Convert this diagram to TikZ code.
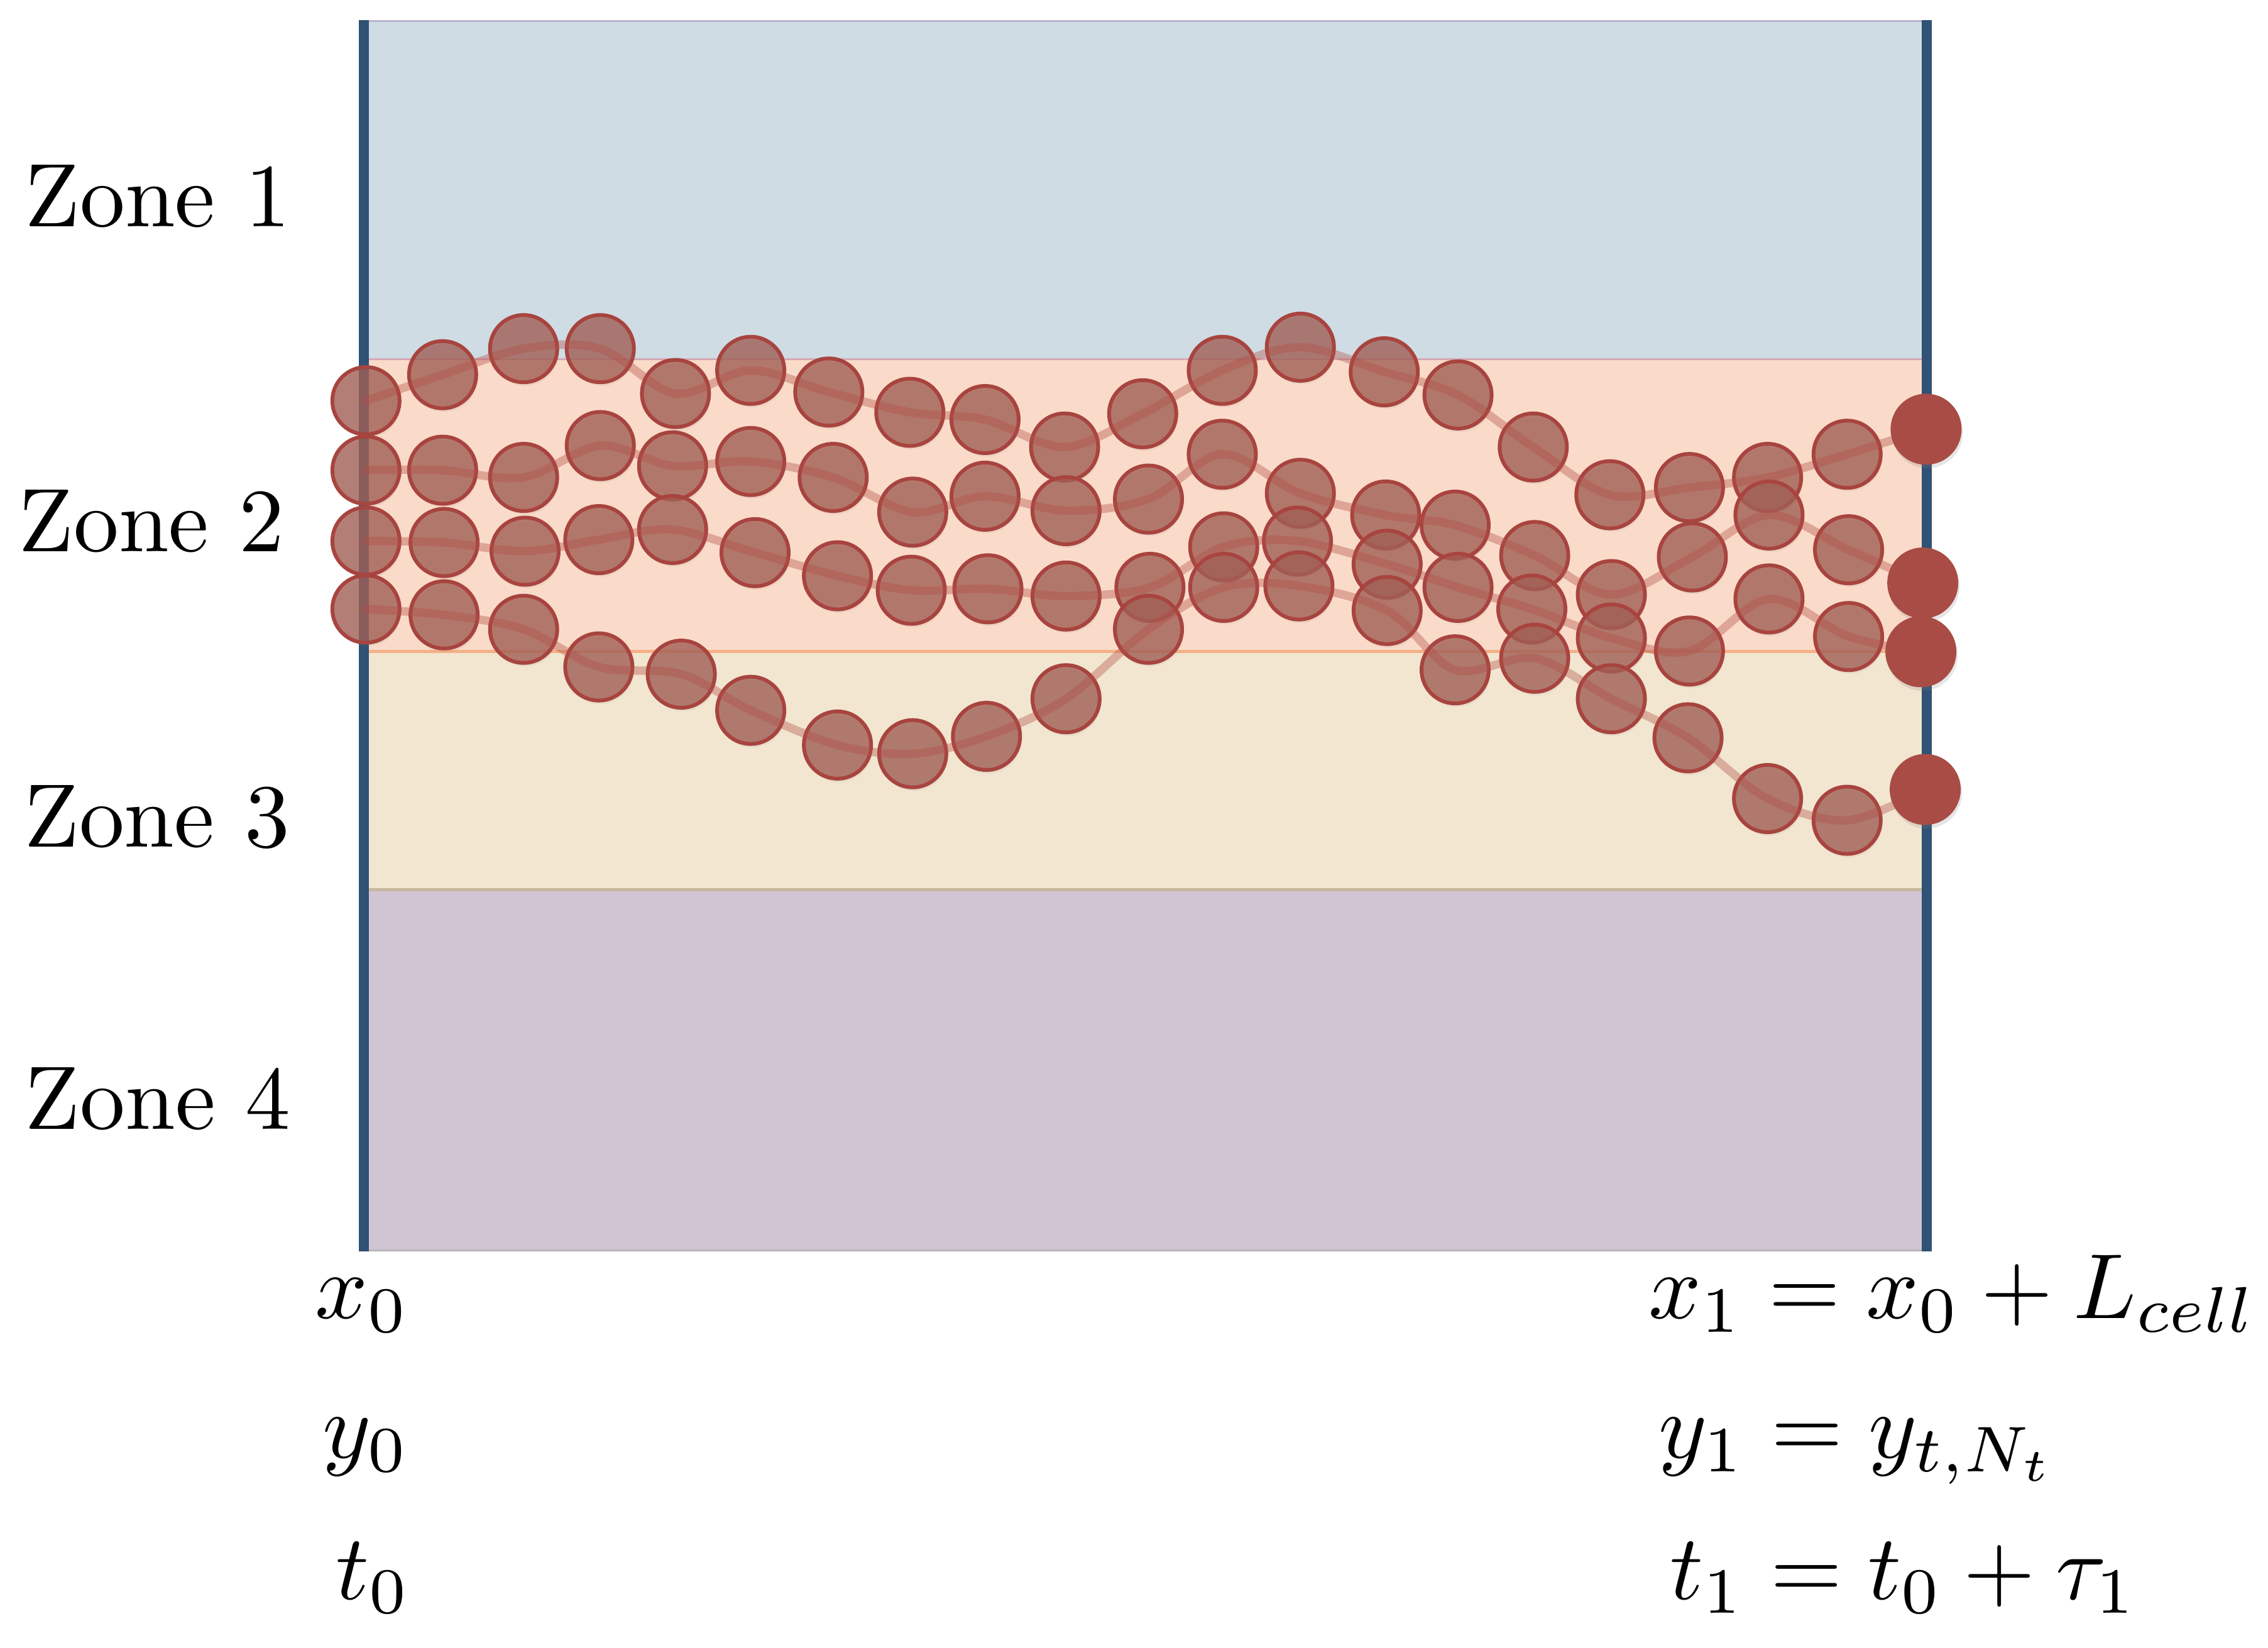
\documentclass[tikz,border=0pt]{standalone}
\usetikzlibrary{shadows}
\definecolor{zoneA}{HTML}{CFDCE4}
\definecolor{zoneB}{HTML}{FADBC9}
\definecolor{zoneC}{HTML}{F2E6D0}
\definecolor{zoneD}{HTML}{D1C5D4}
\definecolor{barblue}{HTML}{2F5275}
\definecolor{beadfill}{RGB}{162,94,84}
\definecolor{beadedge}{HTML}{A8443F}
\definecolor{beadsolid}{HTML}{A84C45}
\definecolor{trail}{RGB}{178,78,70}
\definecolor{lineA}{HTML}{B8B4CC}
\definecolor{lineB}{HTML}{D5A9B3}
\definecolor{lineC}{HTML}{F5B088}
\definecolor{lineD}{HTML}{C8B89C}
\definecolor{lineE}{HTML}{B9B6B9}
\pgfdeclarelayer{front}
\pgfsetlayers{main,front}
\begin{document}
\begin{tikzpicture}[x=0.0230166cm, y=-0.0230166cm,
  bead/.style={circle, inner sep=0pt, outer sep=0pt, minimum size=1.07cm,
    fill=beadfill, fill opacity=0.78, draw=beadedge, draw opacity=1, line width=1.7pt,
    drop shadow={shadow xshift=0.6pt, shadow yshift=-1.6pt, opacity=0.1}},
  endbead/.style={circle, inner sep=0pt, outer sep=0pt, minimum size=1.13cm,
    fill=beadsolid,
    drop shadow={shadow xshift=0.6pt, shadow yshift=-1.6pt, opacity=0.2}},
  trailline/.style={draw=trail, line width=3.8pt, opacity=0.38, line cap=round, line join=round},
  zonelabel/.style={anchor=base, inner sep=0pt, scale=4.08, transform shape},
  mathlabel/.style={anchor=base west, inner sep=0pt, scale=4.18, transform shape}]

\useasboundingbox (0,0) rectangle (1568,1139);

% zones
\fill[zoneA] (255,13.9) rectangle (1328.6,248.1);
\fill[zoneB] (255,248.1) rectangle (1328.6,450.5);
\fill[zoneC] (255,450.5) rectangle (1328.6,614.8);
\fill[zoneD] (255,614.8) rectangle (1328.6,863.7);
\draw[lineA, line width=0.85pt] (255,14.6) -- (1328.6,14.6);
\draw[lineB, line width=0.85pt] (255,248.4) -- (1328.6,248.4);
\draw[lineC, line width=1.4pt] (255,450.5) -- (1328.6,450.5);
\draw[lineD, line width=1.4pt] (255,614.8) -- (1328.6,614.8);
\draw[lineE, line width=0.85pt] (255,864.2) -- (1328.6,864.2);

% boundary bars
\fill[barblue] (248.1,13.9) rectangle (255,865);
\fill[barblue] (1328.6,13.9) rectangle (1335.5,865);

% zone labels
\node[zonelabel] (zone1) at (109,156.6) {Zone 1};
\node[zonelabel] (zone2) at (104.7,381.4) {Zone 2};
\node[zonelabel] (zone3) at (108.5,585.4) {Zone 3};
\node[zonelabel] (zone4) at (109.1,780.5) {Zone 4};

% beads
\foreach \x/\y [count=\i] in {253/277,306/259,362/241,415/241,467/272,519/256,573/271,629/285,681/290,736/309,790/286,845/256,899/240,957/257,1008/273,1060/309,1113/342,1168/337,1222/330,1277/314}
  \node[bead] (A\i) at (\x,\y) {};
\foreach \x/\y [count=\i] in {253/325,306/325,362/330,415/308,465/322,519/319,576/330,631/354,681/343,737/353,794/345,845/314,899/341,958/356,1006/363,1061/384,1114/411,1170/385,1223/356,1278/380}
  \node[bead] (B\i) at (\x,\y) {};
\foreach \x/\y [count=\i] in {253/374,307/375,363/381,414/373,465/366,522/382,579/398,630/408,683/407,737/412,795/406,846/378,897/374,959/390,1008/406,1059/421,1114/441,1168/450,1223/414,1278/440}
  \node[bead] (C\i) at (\x,\y) {};
\foreach \x/\y [count=\i] in {253/421,307/425,362/435,414/461,471/466,519/491,579/515,631/521,682/509,737/483,794/435,846/406,898/405,959/422,1006/463,1061/455,1114/483,1167/510,1222/552,1277/567}
  \node[bead] (D\i) at (\x,\y) {};

\begin{pgfonlayer}{front}
  \node[endbead] (AE) at (1331.6,296.7) {};
  \node[endbead] (BE) at (1329.3,403) {};
  \node[endbead] (CE) at (1328,450.5) {};
  \node[endbead] (DE) at (1331,545.7) {};
\end{pgfonlayer}

% trails
\draw[trailline] plot[smooth, tension=0.55] coordinates {(A1.center) (A2.center) (A3.center) (A4.center) (A5.center) (A6.center) (A7.center) (A8.center) (A9.center) (A10.center) (A11.center) (A12.center) (A13.center) (A14.center) (A15.center) (A16.center) (A17.center) (A18.center) (A19.center) (A20.center) (AE.center)};
\draw[trailline] plot[smooth, tension=0.55] coordinates {(B1.center) (B2.center) (B3.center) (B4.center) (B5.center) (B6.center) (B7.center) (B8.center) (B9.center) (B10.center) (B11.center) (B12.center) (B13.center) (B14.center) (B15.center) (B16.center) (B17.center) (B18.center) (B19.center) (B20.center) (BE.center)};
\draw[trailline] plot[smooth, tension=0.55] coordinates {(C1.center) (C2.center) (C3.center) (C4.center) (C5.center) (C6.center) (C7.center) (C8.center) (C9.center) (C10.center) (C11.center) (C12.center) (C13.center) (C14.center) (C15.center) (C16.center) (C17.center) (C18.center) (C19.center) (C20.center) (CE.center)};
\draw[trailline] plot[smooth, tension=0.55] coordinates {(D1.center) (D2.center) (D3.center) (D4.center) (D5.center) (D6.center) (D7.center) (D8.center) (D9.center) (D10.center) (D11.center) (D12.center) (D13.center) (D14.center) (D15.center) (D16.center) (D17.center) (D18.center) (D19.center) (D20.center) (DE.center)};

% labels
\node[mathlabel] (x0) at (216.6,911.1) {$x_0$};
\node[mathlabel] (y0) at (222,1007.9) {$y_0$};
\node[mathlabel] (t0) at (231,1105.5) {$t_0$};
\node[mathlabel] (x1) at (1138.7,911.4) {$x_1 = x_0 + L_{cell}$};
\node[mathlabel] (y1) at (1145.5,1007.9) {$y_1 = y_{t,N_t}$};
\node[mathlabel] (t1) at (1153.4,1105.5) {$t_1 = t_0 + \tau_1$};
\end{tikzpicture}
\end{document}
